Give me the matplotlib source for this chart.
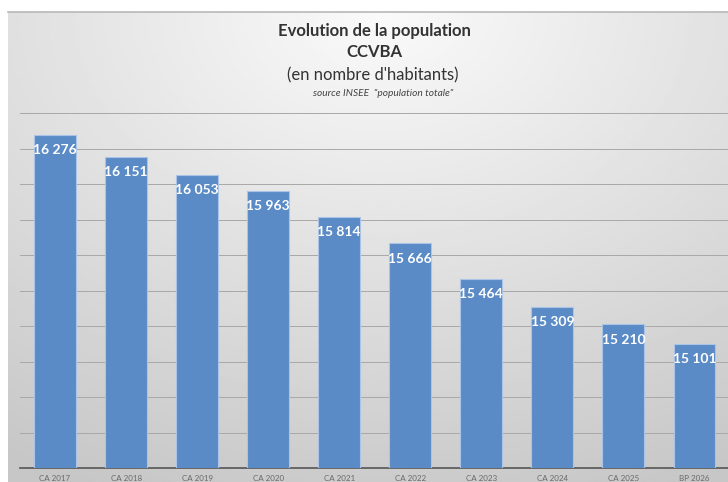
import numpy as np
import matplotlib.pyplot as plt

# data
categories = ['CA 2017', 'CA 2018', 'CA 2019', 'CA 2020', 'CA 2021',
              'CA 2022', 'CA 2023', 'CA 2024', 'CA 2025', 'BP 2026']
population = [16276, 16151, 16053, 15963, 15814, 15666, 15464, 15309, 15210, 15101]

W, H = 728, 482
fig = plt.figure(figsize=(W / 100, H / 100), dpi=100)
fig.patch.set_facecolor('white')

# grey gradient backdrop of the chart area
bg = fig.add_axes([8 / W, 0, 1 - 8 / W, (H - 12) / H])
bg.set_axis_off()
yy, xx = np.mgrid[0:1:200j, 0:1:300j]
d = np.sqrt(((xx - 0.52) * 1.1) ** 2 + (yy * 1.0) ** 2)
shade = 0.98 - 0.20 * np.clip(d, 0, 1.1) / 1.1
bg.imshow(shade, cmap='gray', vmin=0, vmax=1, aspect='auto',
          extent=[0, 1, 0, 1], origin='upper')
bg.plot([0, 1], [1, 1], color='#b8b8b8', lw=1.2, transform=bg.transAxes, clip_on=False)

ax = fig.add_axes([19.5 / W, 14 / H, 710.5 / W, 355 / H])
ax.patch.set_alpha(0)
x = np.arange(len(categories))
ax.bar(x, population, width=0.59, color='#5b8bc6', edgecolor='#a9c4e6',
       linewidth=0.8, zorder=3)
ax.set_xlim(-0.5, 9.5)
ax.set_ylim(14400, 16400)
ax.set_yticks(np.arange(14400, 16401, 200))
ax.yaxis.grid(True, color='#a8a8a8', linewidth=0.7, zorder=0)
ax.tick_params(axis='y', left=False, labelleft=False)
ax.tick_params(axis='x', bottom=False, pad=1.5, labelsize=5.8, labelcolor='#6a6a6a')
ax.set_xticks(x)
ax.set_xticklabels(categories, family='Lato')
for s in ['top', 'right', 'left']:
    ax.spines[s].set_visible(False)
ax.spines['bottom'].set_color('#555555')
ax.spines['bottom'].set_linewidth(1.2)

for xi, v in zip(x, population):
    label = f'{v:,}'.replace(',', ' ')
    ax.annotate(label, (xi, v), xytext=(0, -11), textcoords='offset points',
                ha='center', va='center', color='white', fontsize=10,
                fontweight='bold', family='Lato', zorder=4)

# titles
fig.text(374 / W, 1 - 31 / H, 'Evolution de la population', ha='center', va='center',
         fontsize=12, fontweight='bold', family='Lato', color='#333333')
fig.text(374 / W, 1 - 52 / H, 'CCVBA', ha='center', va='center',
         fontsize=12, fontweight='bold', family='Lato', color='#333333')
fig.text(373 / W, 1 - 75 / H, "(en nombre d'habitants)", ha='center', va='center',
         fontsize=12, family='Lato', color='#333333')
fig.text(383 / W, 1 - 93 / H, 'source INSEE  "population totale"', ha='center', va='center',
         fontsize=7.3, style='italic', family='Lato', color='#444444')

fig.savefig('out.png', dpi=100)
